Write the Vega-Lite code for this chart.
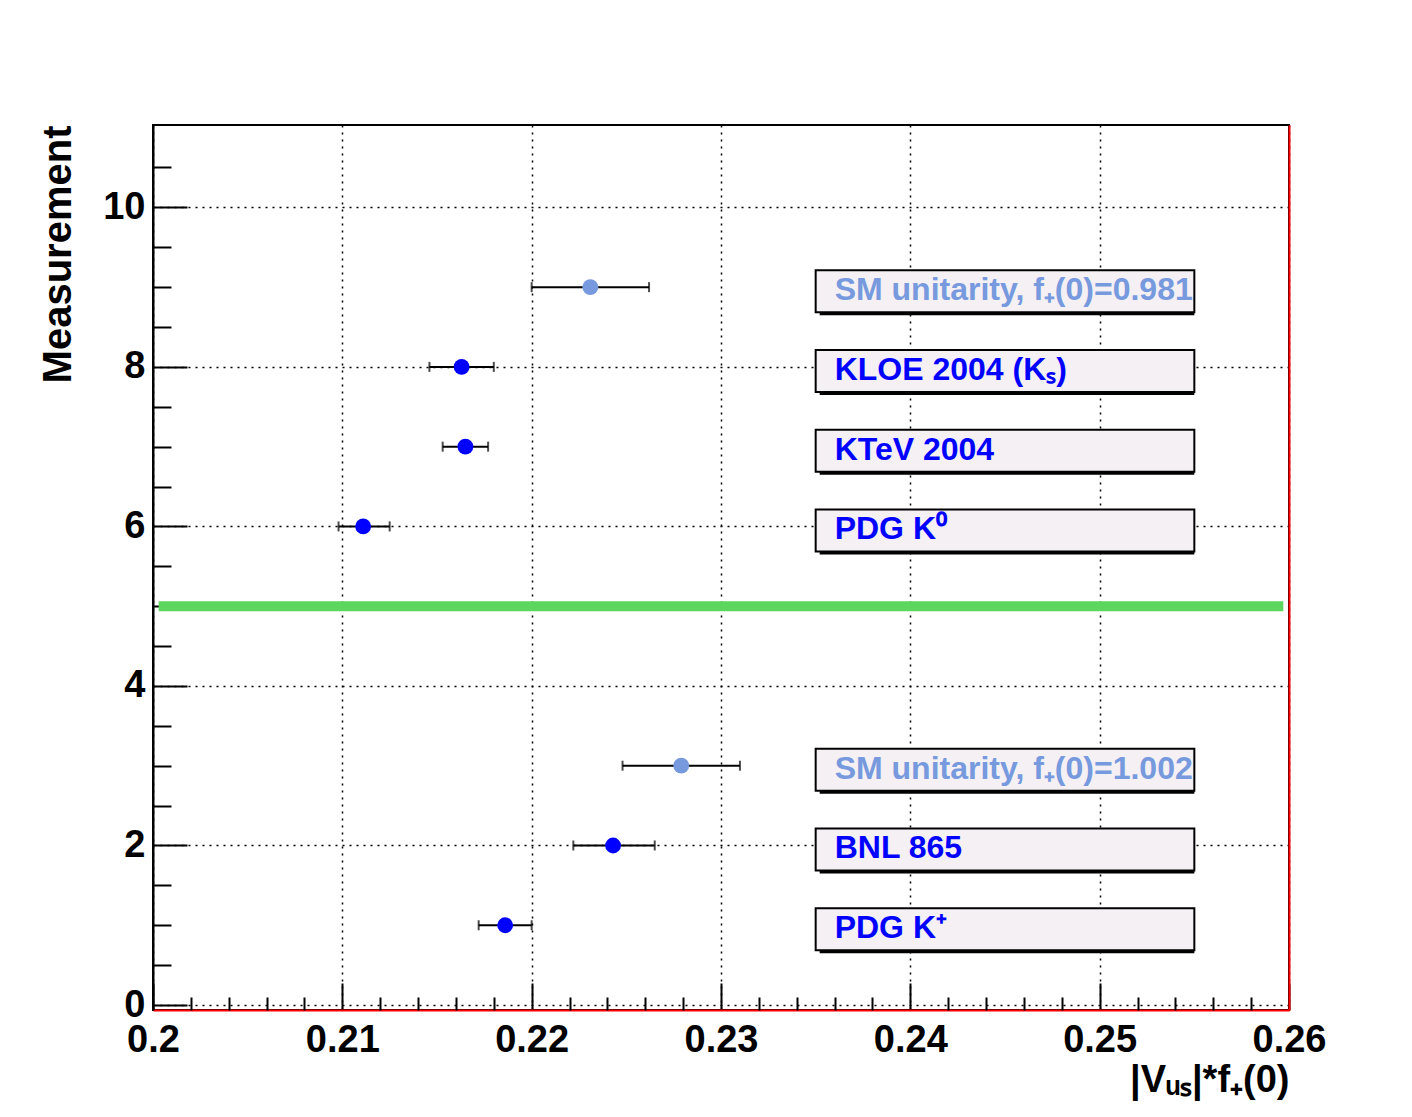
{
  "$schema": "https://vega.github.io/schema/vega-lite/v6.json",
  "width": 1136,
  "height": 885,
  "autosize": {"type": "none"},
  "padding": {"left": 153, "top": 125, "right": 123, "bottom": 107},
  "background": "white",
  "config": {
    "view": {"stroke": "black", "strokeWidth": 2},
    "font": "Liberation Sans"
  },
  "data": {
    "values": [
      {"label": "SM unitarity, f₊(0)=0.981", "val": 0.2231, "lo": 0.2200, "hi": 0.2262, "y": 9, "kind": "SM"},
      {"label": "KLOE 2004 (Kₛ)", "val": 0.2163, "lo": 0.2146, "hi": 0.2180, "y": 8, "kind": "Exp"},
      {"label": "KTeV 2004", "val": 0.2165, "lo": 0.2153, "hi": 0.2177, "y": 7, "kind": "Exp"},
      {"label": "PDG K⁰", "val": 0.2111, "lo": 0.2098, "hi": 0.2125, "y": 6, "kind": "Exp"},
      {"label": "SM unitarity, f₊(0)=1.002", "val": 0.2279, "lo": 0.2248, "hi": 0.2310, "y": 3, "kind": "SM"},
      {"label": "BNL 865", "val": 0.2243, "lo": 0.2222, "hi": 0.2265, "y": 2, "kind": "Exp"},
      {"label": "PDG K⁺", "val": 0.2186, "lo": 0.2172, "hi": 0.2200, "y": 1, "kind": "Exp"}
    ]
  },
  "layer": [
    {
      "mark": {"type": "bar", "orient": "horizontal", "size": 42, "color": "black", "xOffset": 4, "yOffset": 7},
      "encoding": {
        "x": {
          "datum": 0.235, "type": "quantitative",
          "scale": {"domain": [0.2, 0.26], "zero": false, "nice": false},
          "axis": {
            "orient": "bottom",
            "values": [0.2, 0.21, 0.22, 0.23, 0.24, 0.25, 0.26],
            "format": "~g",
            "tickSize": -27, "tickWidth": 2, "tickColor": "black",
            "labelFont": "Liberation Sans", "labelFontWeight": "bold", "labelFontSize": 38, "labelColor": "black",
            "labelPadding": 38, "labelFlush": false, "labelOverlap": false,
            "grid": true, "gridDash": [2, 5], "gridColor": "black", "gridWidth": 1.5, "gridOpacity": 1,
            "domainColor": "red", "domainWidth": 2,
            "title": "|Vᵤₛ|*f₊(0)",
            "titleFont": "Liberation Sans", "titleFontSize": 38, "titleFontWeight": "bold", "titleColor": "black",
            "titleAnchor": "end", "titlePadding": 2
          }
        },
        "x2": {"datum": 0.255},
        "y": {
          "field": "y", "type": "quantitative",
          "scale": {"domain": [0, 10.97], "zero": false, "nice": false},
          "axis": {
            "orient": "left",
            "values": [0, 2, 4, 6, 8, 10],
            "tickSize": -34, "tickWidth": 2, "tickColor": "black",
            "labelFont": "Liberation Sans", "labelFontWeight": "bold", "labelFontSize": 38, "labelColor": "black",
            "labelPadding": 42, "labelFlush": false, "labelOverlap": false,
            "grid": true, "gridDash": [2, 5], "gridColor": "black", "gridWidth": 1.5, "gridOpacity": 1,
            "domainColor": "black", "domainWidth": 2,
            "title": "Measurement",
            "titleFont": "Liberation Sans", "titleFontSize": 40, "titleFontWeight": "bold", "titleColor": "black",
            "titleAnchor": "end", "titlePadding": 24
          }
        }
      }
    },
    {
      "mark": {"type": "bar", "orient": "horizontal", "size": 42, "color": "#f4f0f4", "stroke": "black", "strokeWidth": 2, "yOffset": 4},
      "encoding": {
        "x": {
          "datum": 0.235, "type": "quantitative",
          "axis": {
            "orient": "bottom",
            "values": [0.202, 0.204, 0.206, 0.208, 0.212, 0.214, 0.216, 0.218, 0.222, 0.224, 0.226, 0.228, 0.232, 0.234, 0.236, 0.238, 0.242, 0.244, 0.246, 0.248, 0.252, 0.254, 0.256, 0.258],
            "tickSize": -13, "tickWidth": 2, "tickColor": "black",
            "labels": false, "grid": false, "domain": false, "title": null
          }
        },
        "x2": {"datum": 0.255},
        "y": {
          "field": "y", "type": "quantitative",
          "axis": {
            "orient": "left",
            "values": [0.5, 1, 1.5, 2.5, 3, 3.5, 4.5, 5, 5.5, 6.5, 7, 7.5, 8.5, 9, 9.5, 10.5],
            "tickSize": -18, "tickWidth": 2, "tickColor": "black",
            "labels": false, "grid": false, "domain": false, "title": null
          }
        }
      }
    },
    {
      "mark": {"type": "text", "align": "left", "baseline": "middle", "dx": 19, "dy": 3, "fontSize": 32, "fontWeight": "bold", "font": "Liberation Sans"},
      "encoding": {
        "x": {"datum": 0.235, "type": "quantitative", "axis": null},
        "y": {
          "field": "y", "type": "quantitative",
          "axis": {"orient": "right", "domainColor": "red", "domainWidth": 2, "ticks": false, "labels": false, "grid": false, "title": null}
        },
        "text": {"field": "label"},
        "color": {"field": "kind", "type": "nominal", "scale": {"domain": ["Exp", "SM"], "range": ["#0000ff", "#7799dd"]}, "legend": null}
      }
    },
    {
      "data": {"values": [{"level": 5, "from": 0.2003, "to": 0.2597}]},
      "mark": {"type": "rule", "color": "#5cd65c", "strokeWidth": 10},
      "encoding": {
        "x": {"field": "from", "type": "quantitative", "axis": null},
        "x2": {"field": "to"},
        "y": {"field": "level", "type": "quantitative", "axis": null}
      }
    },
    {
      "mark": {"type": "rule", "color": "black", "strokeWidth": 2},
      "encoding": {
        "x": {"field": "lo", "type": "quantitative", "axis": null},
        "x2": {"field": "hi"},
        "y": {"field": "y", "type": "quantitative", "axis": null}
      }
    },
    {
      "mark": {"type": "tick", "orient": "vertical", "color": "black", "size": 10, "thickness": 2},
      "encoding": {
        "x": {"field": "lo", "type": "quantitative", "axis": null},
        "y": {"field": "y", "type": "quantitative", "axis": null}
      }
    },
    {
      "mark": {"type": "tick", "orient": "vertical", "color": "black", "size": 10, "thickness": 2},
      "encoding": {
        "x": {"field": "hi", "type": "quantitative", "axis": null},
        "y": {"field": "y", "type": "quantitative", "axis": null}
      }
    },
    {
      "mark": {"type": "circle", "size": 250, "opacity": 1},
      "encoding": {
        "x": {"field": "val", "type": "quantitative", "axis": null},
        "y": {"field": "y", "type": "quantitative", "axis": null},
        "color": {"field": "kind", "type": "nominal", "legend": null}
      }
    }
  ],
  "resolve": {"axis": {"x": "independent", "y": "independent"}}
}
